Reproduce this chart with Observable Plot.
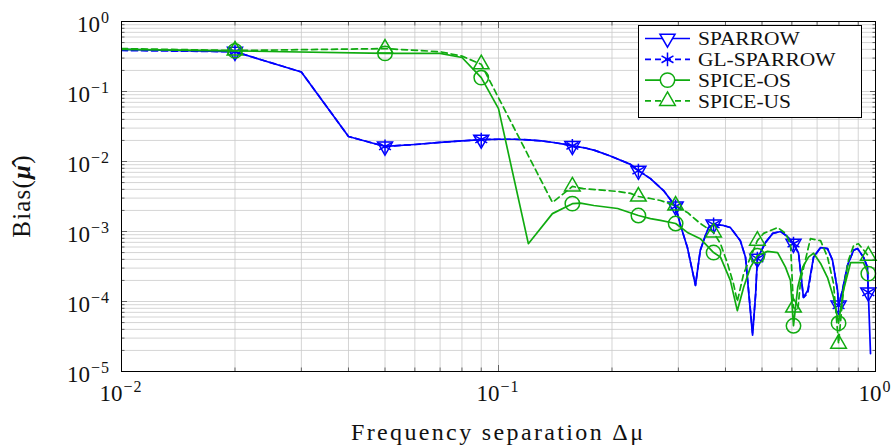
<!DOCTYPE html>
<html><head><meta charset="utf-8">
<script src="https://cdn.jsdelivr.net/npm/d3@7"></script>
<script src="https://cdn.jsdelivr.net/npm/@observablehq/plot@0.6"></script>
<style>html,body{margin:0;padding:0;background:#fff}svg{display:block}</style>
</head><body><div id="chart"></div>
<script>
// ---------- data ----------
const seriesNames = ["SPARROW", "GL-SPARROW", "SPICE-OS", "SPICE-US"];

const sparrowX = [0.01,0.02,0.03,0.04,0.05,0.06,0.07,0.08,0.09,0.10,0.11,0.12,0.13,0.14,0.15,0.157,0.17,0.18,0.198,0.224,0.235,0.253,0.274,0.295,0.304,0.317,0.333,0.343,0.354,0.361,0.372,0.395,0.412,0.438,0.452,0.472,0.481,0.486,0.511,0.534,0.560,0.584,0.606,0.625,0.644,0.661,0.685,0.715,0.746,0.769,0.793,0.798,0.817,0.843,0.875,0.896,0.929,0.952,0.957,0.97];
const sparrowY = [0.40,0.37,0.19,0.0228,0.0164,0.0175,0.0187,0.0197,0.0206,0.0208,0.0208,0.0204,0.0197,0.0187,0.0176,0.0167,0.0156,0.0144,0.0120,0.0091,0.0074,0.0057,0.00385,0.00228,0.00122,0.00059,0.00017,0.00054,0.00088,0.00114,0.00126,0.00122,0.00114,0.00074,0.00043,0.000033,0.00013,0.00041,0.00070,0.00094,0.00100,0.00085,0.00067,0.00049,0.000114,0.000144,0.00043,0.00059,0.00057,0.00039,0.000144,0.000088,0.000144,0.00033,0.00054,0.00057,0.00043,0.00031,0.000135,0.000018];

const glX = [0.01,0.02,0.03,0.04,0.05,0.06,0.07,0.08,0.09,0.10,0.11,0.12,0.13,0.14,0.15,0.157,0.17,0.18,0.198,0.224,0.235,0.253,0.274,0.295,0.304,0.317,0.333,0.343,0.354,0.361,0.372,0.395,0.412,0.438,0.452,0.472,0.481,0.486,0.511,0.534,0.560,0.584,0.606,0.625,0.644,0.661,0.685,0.715,0.746,0.769,0.793,0.798,0.817,0.843,0.875,0.896,0.929,0.952,0.957];
const glY = [0.385,0.37,0.19,0.0228,0.0164,0.0175,0.0187,0.0197,0.0206,0.0208,0.0208,0.0204,0.0197,0.0187,0.0176,0.0167,0.0156,0.0144,0.0120,0.0091,0.0074,0.0057,0.00385,0.00228,0.00122,0.00059,0.00017,0.00054,0.00088,0.00114,0.00126,0.00122,0.00114,0.00074,0.00043,0.000035,0.00013,0.00041,0.00070,0.00094,0.00100,0.00085,0.00067,0.00049,0.000114,0.00013,0.00043,0.00059,0.00057,0.00039,0.000144,0.000088,0.000144,0.00033,0.00054,0.00057,0.00043,0.00031,0.000135];

const osX = [0.01,0.02,0.05,0.07,0.08,0.09,0.10,0.12,0.139,0.157,0.165,0.179,0.207,0.235,0.253,0.269,0.295,0.317,0.343,0.372,0.388,0.412,0.430,0.447,0.466,0.486,0.517,0.550,0.577,0.595,0.606,0.622,0.641,0.664,0.685,0.715,0.746,0.774,0.798,0.822,0.859,0.896,0.929,0.957];
const osY = [0.40,0.38,0.35,0.35,0.306,0.158,0.057,0.00067,0.0018,0.0025,0.00255,0.00235,0.00213,0.00169,0.00153,0.00144,0.0013,0.00097,0.00079,0.0005,0.00043,0.0002,0.000074,0.00016,0.00031,0.00045,0.00052,0.0005,0.00031,0.0002,0.000045,0.00016,0.00031,0.00043,0.00049,0.00035,0.00022,0.000114,0.000049,0.000144,0.00036,0.00036,0.00036,0.00025];

const usX = [0.01,0.02,0.05,0.07,0.08,0.09,0.139,0.157,0.168,0.207,0.224,0.235,0.253,0.269,0.295,0.317,0.343,0.372,0.388,0.405,0.420,0.430,0.447,0.486,0.505,0.550,0.577,0.595,0.606,0.622,0.633,0.661,0.672,0.715,0.746,0.774,0.798,0.822,0.848,0.875,0.901,0.957];
const usY = [0.41,0.385,0.41,0.37,0.32,0.245,0.0026,0.0044,0.0041,0.00373,0.0035,0.00316,0.00296,0.00277,0.00235,0.00187,0.0013,0.00097,0.00067,0.00035,0.00018,0.0001,0.00025,0.00074,0.00094,0.00114,0.00094,0.00067,0.000082,0.000074,0.0002,0.00054,0.00079,0.00074,0.00043,0.00018,0.000025,0.000144,0.00039,0.00063,0.00067,0.00045];

// x positions carrying a marker
const markX = [0.02,0.05,0.09,0.157,0.235,0.295,0.372,0.486,0.606,0.798,0.957];

// tick labels
const xTickValues = [0.01, 0.1, 1];
const xTickExps = ["\u22122", "\u22121", "0"];
const yTickValues = [1, 0.1, 0.01, 0.001, 0.0001, 0.00001];
const yTickExps = ["0", "\u22121", "\u22122", "\u22123", "\u22124", "\u22125"];

const xLabel = "Frequency separation \u0394\u03bc";

// ---------- styling ----------
const BLUE = "#0000ff", GREEN = "#10ab10";
const FONT = "'Liberation Serif', 'DejaVu Serif', serif";

const triangleDown = {
  draw(ctx, size) {
    const s3 = Math.sqrt(3);
    const y = -Math.sqrt(size / (s3 * 3));
    ctx.moveTo(0, -y * 2);
    ctx.lineTo(-s3 * y, y);
    ctx.lineTo(s3 * y, y);
    ctx.closePath();
  }
};

const series = [
  {name: seriesNames[0], xs: sparrowX, ys: sparrowY, color: BLUE, dash: null, symbol: triangleDown, r: 5.6},
  {name: seriesNames[1], xs: glX, ys: glY, color: BLUE, dash: "6,4", symbol: "asterisk", r: 6.5},
  {name: seriesNames[2], xs: osX, ys: osY, color: GREEN, dash: null, symbol: "circle", r: 7.2},
  {name: seriesNames[3], xs: usX, ys: usY, color: GREEN, dash: "6,4", symbol: "triangle", r: 5.8}
];
series.forEach(s => { s.rows = s.xs.map((x, i) => ({x, y: s.ys[i]})); });

// grid positions (decade x 1..9)
const minorX = [], minorY = [];
for (let e = -2; e < 0; e++) for (let k = 2; k <= 9; k++) minorX.push(k * 10 ** e);
for (let e = -5; e < 0; e++) for (let k = 2; k <= 9; k++) minorY.push(k * 10 ** e);

const gridColor = "#c9c9c9";
const tickColor = "#444";

const marks = [
  Plot.ruleX(minorX, {stroke: gridColor, strokeWidth: 0.8}),
  Plot.ruleY(minorY, {stroke: gridColor, strokeWidth: 0.8}),
  Plot.ruleX(xTickValues, {stroke: gridColor, strokeWidth: 0.8}),
  Plot.ruleY(yTickValues, {stroke: gridColor, strokeWidth: 0.8}),
];
const axOpts = {tickFormat: () => "", label: null, stroke: tickColor, strokeWidth: 0.8};
for (const anchor of ["bottom", "top"]) {
  marks.push(Plot.axisX(xTickValues, {...axOpts, anchor, tickSize: -6}));
  marks.push(Plot.axisX(minorX, {...axOpts, anchor, tickSize: -3.5}));
}
for (const anchor of ["left", "right"]) {
  marks.push(Plot.axisY(yTickValues, {...axOpts, anchor, tickSize: -6}));
  marks.push(Plot.axisY(minorY, {...axOpts, anchor, tickSize: -3.5}));
}
for (const s of series) {
  marks.push(Plot.line(s.rows, {x: "x", y: "y", stroke: s.color, strokeWidth: 1.7, strokeDasharray: s.dash, clip: true}));
  marks.push(Plot.dot(s.rows.filter(d => markX.includes(d.x)), {x: "x", y: "y", r: s.r, symbol: () => s.symbol, stroke: s.color, fill: "none", strokeWidth: 1.5}));
}
marks.push(Plot.frame({stroke: "#000", strokeWidth: 1}));

const plot = Plot.plot({
  width: 892, height: 447,
  marginLeft: 121, marginRight: 17, marginTop: 21, marginBottom: 76,
  x: {type: "log", domain: [0.01, 1], axis: null},
  y: {type: "log", domain: [1e-5, 1], axis: null},
  symbol: {type: "identity"},
  style: {fontFamily: FONT, background: "#fff", overflow: "visible"},
  marks
});
document.getElementById("chart").append(plot);

// ---------- text: tick labels, axis labels, legend ----------
const svg = d3.select(plot);
const xs = v => plot.scale("x").apply(v);
const ys = v => plot.scale("y").apply(v);
const tg = svg.append("g").attr("font-family", FONT).attr("fill", "#111");

function powerLabel(t, exp) {
  t.append("tspan").text("10");
  t.append("tspan").attr("dx", 1).attr("dy", -9).attr("font-size", 16).attr("letter-spacing", 1).text(exp);
}
xTickValues.forEach((v, i) => {
  const t = tg.append("text").attr("x", xs(v)).attr("y", 401).attr("text-anchor", "middle").attr("font-size", 23);
  powerLabel(t, xTickExps[i]);
});
yTickValues.forEach((v, i) => {
  const t = tg.append("text").attr("x", 110).attr("y", ys(v) + 10.5).attr("text-anchor", "end").attr("font-size", 23);
  powerLabel(t, yTickExps[i]);
});

tg.append("text").attr("x", 497).attr("y", 440).attr("text-anchor", "middle").attr("font-size", 24)
  .attr("textLength", 292).attr("lengthAdjust", "spacing").text(xLabel);

const yl = tg.append("text").attr("transform", "translate(30,196) rotate(-90)").attr("text-anchor", "middle")
  .attr("font-size", 25).attr("letter-spacing", 1.2);
yl.append("tspan").text("Bias(");
yl.append("tspan").attr("font-weight", "bold").attr("font-style", "italic").text("\u03bc\u0302");
yl.append("tspan").text(")");

// legend
const lg = svg.append("g");
lg.append("rect").attr("x", 638.5).attr("y", 25.5).attr("width", 223).attr("height", 92)
  .attr("fill", "#fff").attr("stroke", "#000").attr("stroke-width", 1);
const symMap = {circle: d3.symbolCircle, triangle: d3.symbolTriangle, asterisk: d3.symbolAsterisk};
series.forEach((s, i) => {
  const cy = 38.5 + i * 20.8;
  lg.append("line").attr("x1", 645).attr("x2", 690).attr("y1", cy).attr("y2", cy)
    .attr("stroke", s.color).attr("stroke-width", 1.7).attr("stroke-dasharray", s.dash);
  const symType = typeof s.symbol === "string" ? symMap[s.symbol] : s.symbol;
  lg.append("path").attr("d", d3.symbol(symType, Math.PI * s.r * s.r)())
    .attr("transform", `translate(667.5,${cy})`).attr("fill", "#fff")
    .attr("stroke", s.color).attr("stroke-width", 1.5);
  lg.append("text").attr("transform", `translate(698,${cy + 6.8}) scale(1.16,1)`).attr("text-anchor", "start")
    .attr("font-family", FONT).attr("font-size", 18.5).attr("fill", "#111").text(s.name);
});
</script>
</body></html>
